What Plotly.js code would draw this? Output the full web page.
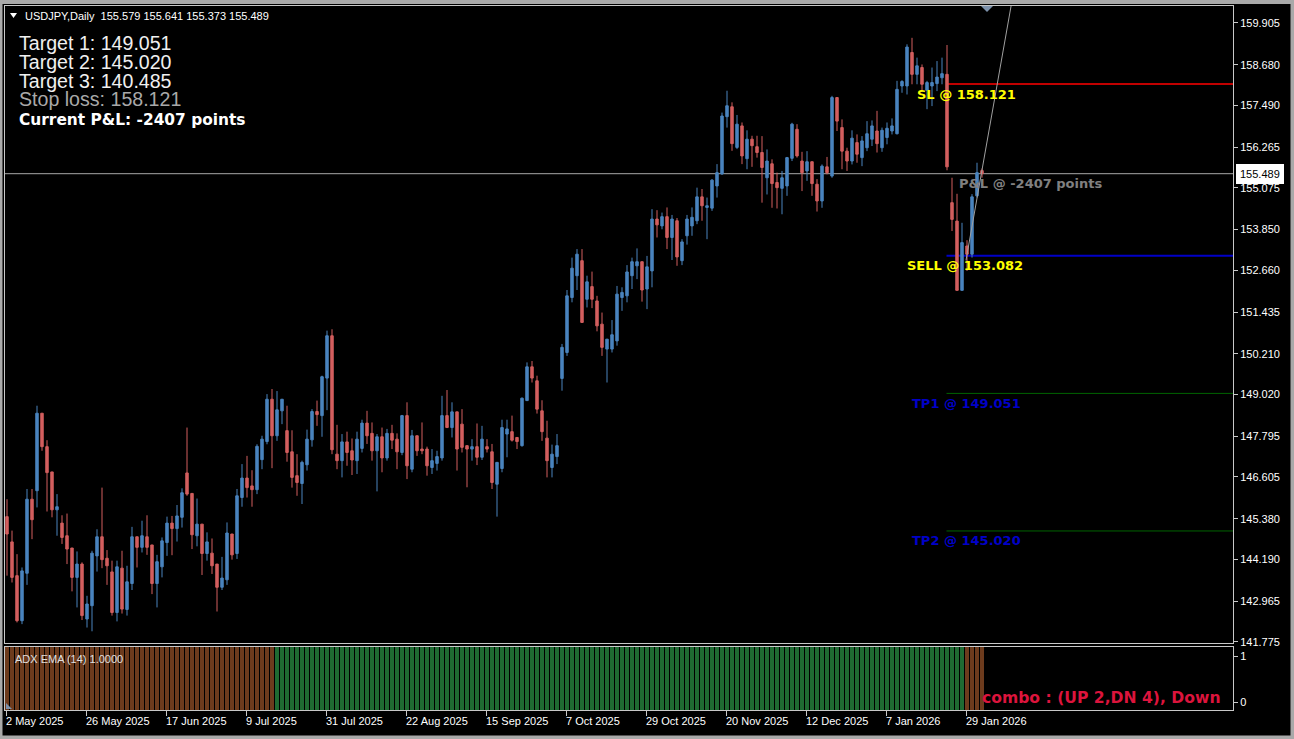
<!DOCTYPE html>
<html><head><meta charset="utf-8">
<script src="https://cdn.plot.ly/plotly-3.0.1.min.js"></script>
<style>html,body{margin:0;padding:0;background:#000;overflow:hidden}#chart{width:1294px;height:739px}</style>
</head><body><div id="chart"></div>
<script>
// ---- Data (USDJPY Daily) ----
const openP = [
145.44,144.70,143.71,142.39,143.78,145.95,146.20,148.47,147.49,146.75,
145.64,145.25,144.88,144.52,143.66,144.05,142.44,142.83,144.29,144.85,
144.22,143.82,142.63,143.93,142.72,143.48,144.85,144.54,144.85,144.61,
143.48,143.97,144.68,145.25,145.09,145.42,146.72,146.12,144.88,145.22,
144.36,144.37,144.05,143.37,143.59,144.93,144.36,146.00,146.57,146.34,
146.23,147.11,147.64,148.88,147.81,148.54,147.96,147.34,146.64,146.41,
146.96,147.69,148.52,148.40,149.50,150.74,147.27,147.08,147.63,147.37,
147.08,147.44,148.18,147.88,147.37,147.78,147.16,147.88,147.71,147.32,
148.40,146.83,147.81,147.42,147.42,146.88,147.00,147.16,148.40,148.05,
148.51,148.15,147.52,147.42,147.49,147.18,147.49,147.34,146.39,146.85,
147.86,147.93,147.76,147.52,148.84,149.83,149.42,148.54,147.74,146.88,
147.20,149.49,150.25,151.86,152.50,152.94,151.81,152.18,151.76,151.08,
150.35,150.35,150.59,151.86,151.91,152.50,152.79,152.91,152.11,152.64,
154.16,153.96,154.23,153.62,154.11,152.94,153.67,153.96,154.11,154.81,
154.50,154.48,155.13,155.48,157.16,157.45,156.26,156.89,155.93,156.50,
156.28,156.11,155.37,155.78,155.23,155.06,155.13,155.94,156.79,155.86,
155.57,155.84,155.18,154.69,155.69,155.42,157.72,156.84,156.15,155.86,
156.40,155.96,156.25,156.50,156.74,156.25,156.55,156.74,156.66,158.06,
158.06,159.04,158.40,158.60,157.93,158.06,158.13,158.30,158.40,154.64,
154.10,152.07,153.37,153.13,154.84,155.579];
const highP = [
145.95,145.03,144.34,143.95,146.25,146.25,148.69,148.47,147.68,146.75,
146.10,145.48,145.53,144.52,144.42,144.10,143.12,144.44,145.07,146.29,
144.46,144.15,144.15,144.44,144.00,145.14,144.85,145.32,145.48,144.61,
144.32,144.83,145.44,145.46,145.78,146.27,148.05,146.12,145.97,145.22,
144.98,144.80,144.05,144.26,145.27,144.93,146.25,146.98,147.22,146.80,
147.56,147.81,149.03,149.18,149.12,148.88,148.69,147.97,147.27,147.08,
147.99,148.59,148.84,149.57,150.89,150.93,148.13,147.86,147.93,147.73,
147.93,148.28,148.54,148.20,147.86,148.05,148.01,148.13,147.88,148.42,
148.79,147.98,147.81,148.20,147.49,147.42,147.37,148.98,149.15,148.79,
148.51,148.59,147.52,147.71,148.17,148.10,147.71,147.57,147.03,148.28,
148.28,148.40,147.76,148.93,149.96,150.00,149.57,148.85,148.25,147.55,
147.86,150.50,152.08,153.03,153.28,153.28,152.50,152.62,151.91,151.42,
150.64,151.20,152.20,152.16,152.81,153.03,153.30,152.91,153.08,154.45,
154.42,154.35,154.50,154.28,154.19,153.57,154.28,154.50,155.08,155.04,
154.79,155.33,155.77,157.28,157.92,157.58,157.21,156.99,156.76,156.60,
156.60,156.59,156.20,155.91,155.52,155.57,155.98,156.98,156.94,156.13,
156.15,155.84,155.33,155.76,155.98,157.77,157.72,157.08,156.25,156.76,
156.64,156.59,157.03,157.05,157.33,156.84,156.99,157.11,158.21,158.23,
159.28,159.47,158.89,158.69,158.21,158.60,158.79,158.89,159.26,155.37,
154.90,154.05,153.54,154.89,155.81,155.641];
const lowP = [
143.71,143.51,142.34,142.29,143.44,144.78,145.71,147.37,145.59,145.42,
144.88,144.64,144.05,143.25,142.78,142.41,142.19,142.08,143.83,143.93,
143.44,142.54,142.37,142.60,142.54,143.29,143.95,144.39,144.32,143.17,
142.78,143.66,144.29,144.31,144.71,145.12,146.05,144.49,144.57,143.73,
144.15,143.76,142.66,143.29,143.44,144.18,144.20,145.73,146.00,145.73,
146.10,146.83,147.56,146.86,147.66,148.15,147.05,146.29,146.05,145.81,
146.79,147.49,148.10,147.78,148.56,147.27,146.83,146.59,146.93,146.66,
146.69,147.32,147.57,147.08,146.18,146.74,147.08,147.42,146.83,147.24,
146.54,146.74,147.22,147.27,146.64,146.69,146.79,147.08,148.05,147.76,
146.79,147.32,146.30,147.08,146.95,147.10,147.32,146.25,145.44,146.74,
147.18,147.64,147.42,147.49,148.84,149.37,148.46,147.66,146.59,146.59,
146.98,149.13,150.15,151.72,152.08,151.13,151.57,151.55,150.87,150.15,
149.37,150.25,150.45,151.47,151.72,152.11,152.40,151.74,151.52,152.16,
153.62,153.86,153.28,152.96,152.79,152.81,153.41,153.67,154.01,154.11,
153.57,154.40,154.79,155.46,156.84,156.16,156.21,155.77,155.62,155.69,
155.96,154.64,154.88,154.49,154.47,154.30,154.84,155.86,155.96,154.98,
155.28,154.84,154.38,154.49,155.47,155.37,156.74,155.62,155.57,155.76,
155.81,155.71,156.15,156.30,156.11,156.13,156.35,156.64,156.64,157.86,
157.81,158.11,158.11,157.89,157.38,157.47,157.91,158.11,155.59,153.81,
152.07,152.07,152.64,153.03,154.79,155.373];
const closeP = [
144.93,143.66,142.39,143.85,145.95,145.35,148.47,147.49,146.73,145.64,
145.73,144.83,144.49,143.66,144.05,142.54,142.88,144.37,144.85,144.18,
144.00,142.63,143.97,142.73,143.53,144.85,144.54,144.88,144.54,143.48,
144.12,144.73,145.25,145.09,145.46,146.14,146.10,144.91,145.22,144.36,
144.70,144.00,143.37,143.64,144.96,144.32,146.05,146.57,146.29,146.23,
147.50,147.71,148.88,147.81,148.57,148.88,147.32,146.59,146.44,147.03,
147.71,148.52,148.43,149.54,150.74,147.40,147.08,147.63,147.32,147.10,
147.71,148.18,147.81,147.37,147.78,147.16,147.88,147.68,147.34,148.40,
146.93,147.81,147.37,147.37,146.93,147.08,147.20,148.40,148.05,148.51,
147.42,147.47,147.42,147.49,147.18,147.71,147.42,146.44,147.03,148.05,
148.01,147.68,147.64,148.91,149.83,149.50,148.59,147.93,147.08,147.27,
147.52,150.40,151.91,152.72,153.13,151.13,152.32,151.81,151.03,150.40,
150.64,150.77,151.96,152.01,152.61,152.91,152.91,152.08,152.76,154.16,
153.99,154.23,153.62,154.16,153.05,153.49,154.16,154.21,154.81,154.55,
154.55,155.30,155.52,157.18,157.48,156.37,156.94,156.01,156.50,156.31,
156.11,155.67,155.86,155.20,155.08,155.37,155.96,156.94,156.01,155.52,
155.84,155.20,154.69,155.71,155.52,157.72,157.03,156.15,155.86,156.53,
156.06,156.45,156.66,156.89,156.37,156.76,156.82,156.89,157.96,158.19,
159.20,158.40,158.65,158.11,158.16,158.16,158.32,158.42,155.69,154.15,
152.07,153.47,153.13,154.81,155.52,155.489];

const dateTickBars = [0,16,32,48,64,80,96,112,128,144,160,176,192];
const dateTickLabels = ['2 May 2025','26 May 2025','17 Jun 2025','9 Jul 2025','31 Jul 2025','22 Aug 2025','15 Sep 2025','7 Oct 2025','29 Oct 2025','20 Nov 2025','12 Dec 2025','7 Jan 2026','29 Jan 2026'];
const priceTicks = [159.905,158.680,157.490,156.265,155.075,153.850,152.660,151.435,150.210,149.020,147.795,146.605,145.380,144.190,142.965,141.775];

// ADX EMA histogram: runs of [trend, number of bars], every bar value 1
const adxRuns = [['down',54],['up',138],['down',4]];

const slLevel = 158.121;
const sellLevel = 153.082;
const tp1Level = 149.051;
const tp2Level = 145.020;
const tp3Level = 140.485;
const lastPrice = 155.489;
const pnlPoints = -2407;
const entryBar = 187.9;   // where the trade lines start
const trendFrom = [191.8, 152.95];
const trendTo = [201.5, 160.97];

// ---- Build ----
const bars = openP.map((_, i) => i);
const adxX = [], adxY = [], adxC = [];
let k = 0;
adxRuns.forEach(([t, n]) => { for (let j = 0; j < n; j++) { adxX.push(k++); adxY.push(1); adxC.push(t === 'up' ? '#1f6a32' : '#6d3b1d'); } });

const W = 1294, H = 739, L = 5, R = 1233, T = 6, B = 710;
const px = x => (x - L) / (R - L);
const py = y => (B - y) / (B - T);
const MAIN_BOTTOM = 643, SUB_TOP = 647;

const fmt = v => v.toFixed(3);
const LIB = 'Liberation Sans, Arial, sans-serif';
const DJB = 'DejaVu Sans, Verdana, sans-serif';

function txt(text, x, y, size, color, family) {
  return {xref:'paper', yref:'paper', x:px(x), y:py(y), xanchor:'left', yanchor:'middle',
    text, showarrow:false, font:{family, size, color}, borderpad:0, borderwidth:0};
}

const traces = [
  {type:'candlestick', x:bars, open:openP, high:highP, low:lowP, close:closeP,
   xaxis:'x', yaxis:'y', whiskerwidth:0,
   increasing:{line:{color:'#4a84be', width:1}, fillcolor:'#4a84be'},
   decreasing:{line:{color:'#d35f5f', width:1}, fillcolor:'#d35f5f'},
   hoverinfo:'skip', showlegend:false},
  {type:'bar', x:adxX, y:adxY, xaxis:'x2', yaxis:'y2', width:0.78,
   marker:{color:adxC, line:{width:0}}, hoverinfo:'skip', showlegend:false}
];

const lineShape = (y, color, width) => ({type:'line', xref:'x', yref:'y', x0:entryBar, x1:400, y0:y, y1:y,
  line:{color, width}, layer:'below'});

const shapes = [
  {type:'line', xref:'paper', yref:'y', x0:0, x1:1, y0:lastPrice, y1:lastPrice, line:{color:'#a8a8a8', width:1}, layer:'below'},
  lineShape(slLevel, '#c00000', 2),
  lineShape(sellLevel, '#0000c8', 2),
  lineShape(tp1Level, '#006400', 1),
  lineShape(tp2Level, '#006400', 1),
  lineShape(tp3Level, '#006400', 1),
  {type:'line', xref:'x', yref:'y', x0:trendFrom[0], y0:trendFrom[1], x1:trendTo[0], y1:trendTo[1], line:{color:'#a0a0a0', width:1}, layer:'above'},
  // window frame
  {type:'rect', xref:'paper', yref:'paper', x0:px(0), x1:px(W), y0:py(0), y1:py(4), fillcolor:'#a9a9a9', line:{width:0}},
  {type:'rect', xref:'paper', yref:'paper', x0:px(0), x1:px(2.5), y0:py(0), y1:py(H), fillcolor:'#a9a9a9', line:{width:0}},
  {type:'rect', xref:'paper', yref:'paper', x0:px(1290.5), x1:px(W), y0:py(0), y1:py(H), fillcolor:'#a9a9a9', line:{width:0}},
  {type:'rect', xref:'paper', yref:'paper', x0:px(0), x1:px(W), y0:py(735.5), y1:py(H), fillcolor:'#a9a9a9', line:{width:0}},
  // header triangle
  {type:'path', xref:'paper', yref:'paper', path:`M ${px(10)},${py(13)} L ${px(17)},${py(13)} L ${px(13.5)},${py(18)} Z`, fillcolor:'#ffffff', line:{width:0}},
  // chart shift marker
  {type:'path', xref:'paper', yref:'paper', path:`M ${px(981)},${py(6)} L ${px(993)},${py(6)} L ${px(987)},${py(12)} Z`, fillcolor:'#7d91ab', line:{width:0}},
  // sub-window corner marker
  {type:'path', xref:'paper', yref:'paper', path:`M ${px(6)},${py(709)} L ${px(6)},${py(703)} L ${px(12)},${py(709)} Z`, fillcolor:'#7d91ab', line:{width:0}}
];

const annotations = [
  txt('USDJPY,Daily  155.579 155.641 155.373 155.489', 25, 16, 11, '#ffffff', LIB),
  txt('Target 1: ' + fmt(tp1Level), 19, 43.5, 19.6, '#f0f0f0', LIB),
  txt('Target 2: ' + fmt(tp2Level), 19, 62, 19.6, '#f0f0f0', LIB),
  txt('Target 3: ' + fmt(tp3Level), 19, 80.5, 19.6, '#f0f0f0', LIB),
  txt('Stop loss: ' + fmt(slLevel), 19, 99, 19.6, '#a9a9a9', LIB),
  txt('<b>Current P&amp;L: ' + pnlPoints + ' points</b>', 19, 120, 15.4, '#ffffff', DJB),
  txt('<b>SL @ ' + fmt(slLevel) + '</b>', 917, 94, 13, '#ffff00', DJB),
  txt('<b>P&amp;L @ ' + pnlPoints + ' points</b>', 959, 183, 13, '#808080', DJB),
  txt('<b>SELL @ ' + fmt(sellLevel) + '</b>', 907, 265, 13, '#ffff00', DJB),
  txt('<b>TP1 @ ' + fmt(tp1Level) + '</b>', 912, 403, 13, '#0000c8', DJB),
  txt('<b>TP2 @ ' + fmt(tp2Level) + '</b>', 912, 540, 13, '#0000c8', DJB),
  txt('ADX EMA (14) 1.0000', 15, 659, 11, '#e0e0e0', LIB),
  txt('<b>combo : (UP 2,DN 4), Down</b>', 982, 698, 15.6, '#dc143c', DJB),
  {xref:'paper', yref:'y', x:px(1236), y:lastPrice, xanchor:'left', yanchor:'middle', text:fmt(lastPrice),
   showarrow:false, bgcolor:'#ffffff', borderpad:3, borderwidth:1, bordercolor:'#ffffff',
   font:{family:LIB, size:11, color:'#000000'}}
];
dateTickBars.forEach((b, i) => {
  annotations.push({xref:'x2', yref:'paper', x:b - 0.2, y:py(721), xanchor:'left', yanchor:'middle',
    text:dateTickLabels[i], showarrow:false, borderpad:0, borderwidth:0,
    font:{family:LIB, size:11, color:'#ffffff'}});
});

const axisCommon = {showgrid:false, zeroline:false, showline:true, mirror:true, linecolor:'#c8c8c8', linewidth:1, fixedrange:true};
const layout = {
  width:W, height:H, margin:{l:L, r:W - R, t:T, b:H - B, pad:0},
  paper_bgcolor:'#000000', plot_bgcolor:'#000000', showlegend:false, hovermode:false,
  bargap:0,
  xaxis: Object.assign({}, axisCommon, {domain:[0,1], range:[-0.4,245.2], anchor:'y', showticklabels:false, ticks:'', rangeslider:{visible:false}}),
  yaxis: Object.assign({}, axisCommon, {domain:[py(MAIN_BOTTOM),1], range:[141.737,160.403], side:'right', anchor:'x',
     tickmode:'array', tickvals:priceTicks, ticktext:priceTicks.map(fmt), ticks:'outside', ticklen:4, tickcolor:'#c8c8c8',
     tickfont:{family:LIB, size:11, color:'#ffffff'}}),
  xaxis2: Object.assign({}, axisCommon, {domain:[0,1], range:[-0.4,245.2], anchor:'y2', matches:'x', showticklabels:false,
     tickmode:'array', tickvals:dateTickBars.map(b => b - 0.2), ticks:'outside', ticklen:5, tickcolor:'#c8c8c8', rangeslider:{visible:false}}),
  yaxis2: Object.assign({}, axisCommon, {domain:[0, py(SUB_TOP)], range:[0,1], side:'right', anchor:'x2',
     tickmode:'array', tickvals:[0.127,0.857], ticktext:['0','1'], ticks:'outside', ticklen:4, tickcolor:'#c8c8c8',
     tickfont:{family:LIB, size:11, color:'#ffffff'}}),
  shapes, annotations
};
Plotly.newPlot('chart', traces, layout, {staticPlot:true, displayModeBar:false});
</script>
</body></html>
